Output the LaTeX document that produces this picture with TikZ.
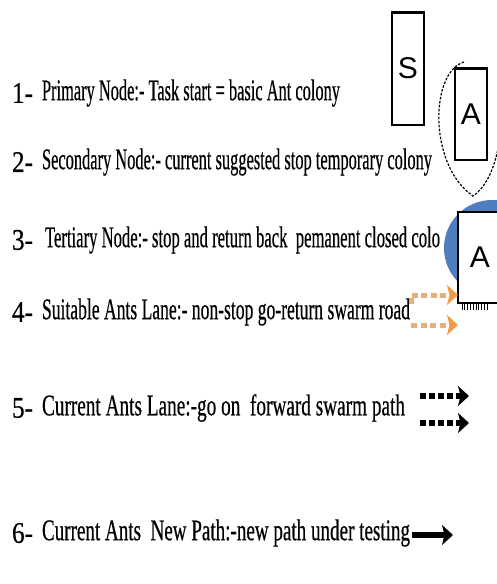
\documentclass[tikz,border=0pt]{standalone}
\usepackage{fontspec}
\setmainfont[FakeBold=0.6]{Liberation Serif}
\newfontfamily\boxfont{Liberation Sans}
\usetikzlibrary{arrows.meta}
\definecolor{antblue}{HTML}{4F7EBF}
\definecolor{orhead}{HTML}{F29B45}
\definecolor{ordash}{HTML}{E6B07C}
\begin{document}
\begin{tikzpicture}[x=1pt,y=-1pt,
  every node/.style={inner sep=0pt,outer sep=0pt},
  num/.style={anchor=west,font=\fontsize{30}{34}\selectfont},
  lbl/.style={anchor=west,font=\fontsize{30}{34}\selectfont},
  colbox/.style={draw,line width=1.3pt,fill=white,font=\boxfont\fontsize{30}{34}\selectfont},
  blackdash/.style={line width=5.5pt,dash pattern=on 6pt off 3pt,-{Stealth[length=11pt,width=20pt,inset=2.5pt]}},
  orangedash/.style={ordash,line width=5pt,dash pattern=on 6pt off 3.5pt,-{Stealth[length=11pt,width=20pt,inset=2.5pt,orhead]}},
  solidarrow/.style={line width=6pt,-{Stealth[length=11pt,width=20pt,inset=2.5pt]}}]
\useasboundingbox (0,0) rectangle (496,584);
% text rows
\node[num] (n1) at (12,93) {\resizebox{21pt}{\height}{1-}};
\node[lbl] (t1) at (42,93) {\resizebox{298pt}{\height}{Primary Node:- Task start = basic Ant colony}};
\node[num] (n2) at (12,162) {\resizebox{21pt}{\height}{2-}};
\node[lbl] (t2) at (42,162) {\resizebox{390pt}{\height}{Secondary Node:- current suggested stop temporary colony}};
\node[num] (n3) at (12,240) {\resizebox{21pt}{\height}{3-}};
\node[lbl] (t3) at (45,240) {\resizebox{395pt}{\height}{Tertiary Node:- stop and return back\ \ pemanent closed colo}};
\node[num] (n4) at (12,312) {\resizebox{21pt}{\height}{4-}};
\node[lbl] (t4) at (42,312) {\resizebox{368pt}{\height}{Suitable Ants Lane:- non-stop go-return swarm road}};
\node[num] (n5) at (12,408) {\resizebox{21pt}{\height}{5-}};
\node[lbl] (t5) at (42,408) {\resizebox{363pt}{\height}{Current Ants Lane:-go on\ \ forward swarm path}};
\node[num] (n6) at (12,533) {\resizebox{21pt}{\height}{6-}};
\node[lbl] (t6) at (42,533) {\resizebox{368pt}{\height}{Current Ants\ \ New Path:-new path under testing}};
% S node
\node[colbox,minimum width=32pt,minimum height=113pt] (s) at (408,68.5) {S};
\draw[line width=3pt] (s.north west) -- (s.north east);
% secondary node: dashed round shape around box
\draw[line width=1.2pt,dash pattern=on 2.5pt off 1.5pt] (464,62) .. controls (430,72) and (428,165) .. (473,196)
  .. controls (494,182) and (504,140) .. (500,100);
\node[colbox,minimum width=32pt,minimum height=92pt] (a1) at (471,114) {A};
\draw[line width=3pt] (a1.north west) -- (a1.north east);
% tertiary node: blue disc behind box
\fill[antblue] (492,248) circle[radius=48pt];
\node[colbox,minimum width=44pt,minimum height=91pt] (a2) at (480,257.5) {A};
\foreach \i in {0,...,9} \draw[line width=0.7pt] (462+2.8*\i,304) -- ++(0,6);
% lanes
\coordinate (o1s) at (411,304);
\coordinate (o1b) at (411,295);
\coordinate (o1e) at (458,295);
\coordinate (o2s) at (411,325);
\coordinate (o2e) at (458,325);
\draw[orangedash] (o1s) -- (o1b) -- (o1e);
\draw[orangedash] (o2s) -- (o2e);
\coordinate (b1s) at (420,396);
\coordinate (b1e) at (469,396);
\coordinate (b2s) at (420,423);
\coordinate (b2e) at (469,423);
\draw[blackdash] (b1s) -- (b1e);
\draw[blackdash] (b2s) -- (b2e);
\coordinate (c1s) at (412,535);
\coordinate (c1e) at (453,535);
\draw[solidarrow] (c1s) -- (c1e);
\end{tikzpicture}
\end{document}
